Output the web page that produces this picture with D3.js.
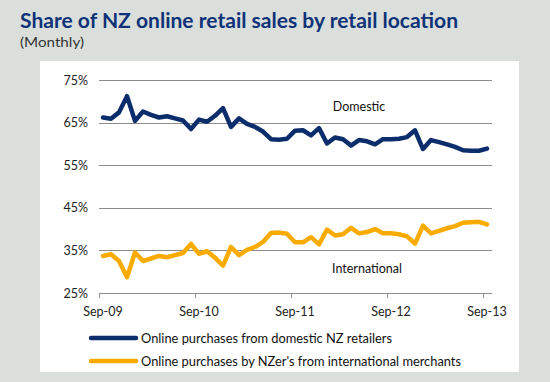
<!DOCTYPE html>
<html><head><meta charset="utf-8">
<script src="https://cdn.jsdelivr.net/npm/d3@7"></script>
<style>body{margin:0;background:#dadfdc;} svg{display:block;}</style>
</head><body>
<svg id="c" width="550" height="382"></svg>
<script>
// Monthly categories Sep-09 .. Sep-13
const months = d3.timeMonths(new Date(2009, 8, 1), new Date(2013, 9, 1));
const tickLabels = ["Sep-09", "Sep-10", "Sep-11", "Sep-12", "Sep-13"];
const yTicks = [25, 35, 45, 55, 65, 75];
const domestic = [66.2, 65.9, 67.4, 71.2, 65.4, 67.6, 66.8, 66.2, 66.5, 66.0, 65.5, 63.5,
  65.7, 65.2, 66.6, 68.4, 64.0, 66.0, 64.7, 64.0, 62.9, 61.1, 61.0, 61.2,
  63.1, 63.2, 62.0, 63.7, 60.1, 61.5, 61.1, 59.6, 60.9, 60.6, 59.9, 61.1,
  61.1, 61.2, 61.6, 63.2, 58.8, 60.9, 60.4, 59.9, 59.3, 58.5, 58.4, 58.4, 58.9];
const international = [33.7, 34.1, 32.5, 28.7, 34.5, 32.5, 33.1, 33.7, 33.4, 33.9, 34.4, 36.5,
  34.2, 34.8, 33.3, 31.4, 35.8, 33.9, 35.1, 35.8, 37.0, 39.1, 39.2, 38.9,
  36.9, 36.9, 38.1, 36.4, 39.9, 38.5, 38.8, 40.3, 39.0, 39.3, 40.0, 39.0,
  39.0, 38.8, 38.3, 36.6, 40.8, 39.0, 39.6, 40.2, 40.7, 41.5, 41.6, 41.7, 41.1];
const seriesNames = ["Online purchases from domestic NZ retailers", "Online purchases by NZer's from international merchants"];
const seriesColors = ["#0c2d6b", "#f9ab00"];

const fmt = d3.timeFormat("%b-%y");
const svg = d3.select("#c");
const font = "Lato, 'Open Sans', sans-serif";

// panel
svg.append("rect").attr("x", 40).attr("y", 61).attr("width", 479).attr("height", 311).attr("fill", "#ffffff");

// title
svg.append("text").attr("x", 20).attr("y", 28).attr("font-family", font).attr("font-weight", "bold")
  .attr("font-size", 21).attr("fill", "#0f3278").attr("textLength", 438).attr("lengthAdjust", "spacingAndGlyphs")
  .text("Share of NZ online retail sales by retail location");
svg.append("text").attr("x", 20).attr("y", 47).attr("font-family", font).attr("font-size", 13)
  .attr("fill", "#333").attr("textLength", 64).attr("lengthAdjust", "spacingAndGlyphs").text("(Monthly)");

const x = d3.scaleBand().domain(months.map(fmt)).range([99, 491]);
const y = d3.scaleLinear().domain([25, 75]).range([293, 80]);
const cx = (i) => x(fmt(months[i])) + x.bandwidth() / 2;

// gridlines
svg.append("g").selectAll("line").data(yTicks.filter(t => t > 25)).join("line")
  .attr("x1", 99).attr("x2", 492).attr("y1", d => Math.round(y(d)) + 0.5).attr("y2", d => Math.round(y(d)) + 0.5)
  .attr("stroke", "#8c8c8c").attr("stroke-width", 1);

// y labels
svg.append("g").selectAll("text").data(yTicks).join("text")
  .attr("x", 88).attr("y", d => y(d) + 4.5).attr("text-anchor", "end")
  .attr("font-family", font).attr("font-size", 12.5).attr("fill", "#222").text(d => d + "%");

// x axis
svg.append("line").attr("x1", 99).attr("x2", 492).attr("y1", 293.5).attr("y2", 293.5).attr("stroke", "#8c8c8c");
const tickIdx = months.map((m, i) => i).filter(i => months[i].getMonth() === 8);
svg.append("g").selectAll("line").data(tickIdx).join("line")
  .attr("x1", i => x(fmt(months[i])) + 0.5).attr("x2", i => x(fmt(months[i])) + 0.5)
  .attr("y1", 293).attr("y2", 298).attr("stroke", "#8c8c8c");
svg.append("g").selectAll("text").data(tickIdx).join("text")
  .attr("x", (i) => cx(i)).attr("y", 316).attr("text-anchor", "middle")
  .attr("font-family", font).attr("font-size", 12.5).attr("fill", "#222")
  .text((i, k) => tickLabels[k]);

// lines
const line = d3.line().x((d, i) => cx(i)).y(d => y(d));
[domestic, international].forEach((s, k) => {
  svg.append("path").attr("d", line(s)).attr("fill", "none").attr("stroke", seriesColors[k])
    .attr("stroke-width", 4.5).attr("stroke-linejoin", "round").attr("stroke-linecap", "round");
});

// inline labels
svg.append("text").attr("x", 359).attr("y", 111).attr("text-anchor", "middle").attr("font-family", font)
  .attr("font-size", 12.5).attr("fill", "#111").text("Domestic");
svg.append("text").attr("x", 367).attr("y", 273).attr("text-anchor", "middle").attr("font-family", font)
  .attr("font-size", 12.5).attr("fill", "#111").text("International");

// legend
const legW = [251, 320];
seriesNames.forEach((n, k) => {
  const ly = 338 + k * 23;
  svg.append("line").attr("x1", 91).attr("x2", 136).attr("y1", ly).attr("y2", ly)
    .attr("stroke", seriesColors[k]).attr("stroke-width", 4.5).attr("stroke-linecap", "round");
  svg.append("text").attr("x", 141).attr("y", ly + 4.5).attr("font-family", font).attr("font-size", 12.5)
    .attr("fill", "#111").attr("textLength", legW[k]).attr("lengthAdjust", "spacingAndGlyphs").text(n);
});
</script>
</body></html>
